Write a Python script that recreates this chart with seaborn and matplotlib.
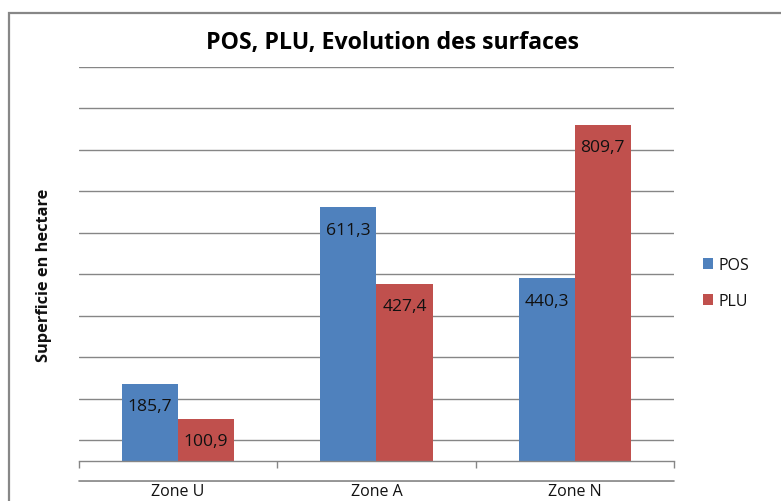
import numpy as np
import pandas as pd
import matplotlib
matplotlib.use("Agg")
import matplotlib.pyplot as plt
import matplotlib.patches as mpatches
from matplotlib.lines import Line2D
import seaborn as sns

# Surfaces (ha) per zone, before (POS) and after (PLU)
zones = ["Zone U", "Zone A", "Zone N"]
pos_values = [185.7, 611.3, 440.3]
plu_values = [100.9, 427.4, 809.7]
series = ["POS", "PLU"]
colors = ["#4F81BD", "#C0504D"]

df = pd.DataFrame({
    "zone": zones * 2,
    "surface": pos_values + plu_values,
    "plan": [series[0]] * len(zones) + [series[1]] * len(zones),
})

sns.set_theme(style="white")
plt.rcParams["font.family"] = ["Open Sans", "DejaVu Sans"]

W, H = 781, 502
fig = plt.figure(figsize=(W / 100, H / 100), dpi=100)
left, right, top, bottom = 79, 674, 68, 482.7
ax = fig.add_axes([left / W, 1 - bottom / H, (right - left) / W, (bottom - top) / H])

sns.barplot(data=df, x="zone", y="surface", hue="plan", hue_order=series,
            palette=colors, saturation=1, width=0.565, gap=0, linewidth=0,
            ax=ax, legend=True)

grid_col = "#868686"
ymin, ymax = -50, 950
ax.set_ylim(ymin, ymax)
ax.set_yticks(np.arange(ymin, ymax + 1, 100))
ax.yaxis.grid(True, color=grid_col, lw=1)
ax.set_axisbelow(True)
ax.tick_params(axis="y", length=0, labelleft=False)

# Lowest gridline runs along the bottom edge of the plot area
fig.add_artist(Line2D([left / W, right / W], [1 - (bottom - 0.5) / H] * 2,
                      transform=fig.transFigure, color=grid_col, lw=1.2,
                      zorder=0.5))

# Category axis sits on zero with tick marks between categories
for s in ["left", "right", "top"]:
    ax.spines[s].set_visible(False)
ax.spines["bottom"].set_position(("data", 0))
ax.spines["bottom"].set_color(grid_col)
ax.spines["bottom"].set_linewidth(1)
ax.set_xlim(-0.5, len(zones) - 0.5)
ax.set_xticks(np.arange(-0.5, len(zones), 1.0), minor=True)
ax.tick_params(axis="x", which="major", length=0, pad=16, labelsize=11.5,
               labelcolor="#111111")
ax.tick_params(axis="x", which="minor", length=5, width=1, color=grid_col,
               direction="out", bottom=True)
ax.set_xlabel("")

ax.set_ylabel("Superficie en hectare", fontsize=11.8, fontweight="bold",
              color="#111111")
ax.yaxis.set_label_coords((52 - left) / (right - left), 0.5)

# Value labels just inside the top of each bar
for cont, vals in zip(ax.containers, [pos_values, plu_values]):
    for patch, v in zip(cont.patches, vals):
        ax.annotate(f"{v:.1f}".replace(".", ","),
                    xy=(patch.get_x() + patch.get_width() / 2, v),
                    xytext=(0, -16), textcoords="offset points",
                    ha="center", va="center", fontsize=12.6, color="#111111")

leg = ax.legend(loc="center left", bbox_to_anchor=(703 / W, 1 - 284 / H),
                bbox_transform=fig.transFigure, frameon=False, fontsize=11.5,
                handlelength=0.65, handleheight=0.65, handletextpad=0.35,
                labelspacing=1.25, borderpad=0, borderaxespad=0)
for t in leg.get_texts():
    t.set_color("#111111")

fig.text(392.5 / W, 1 - 43.5 / H, "POS, PLU, Evolution des surfaces",
         ha="center", va="center", fontsize=16.7, fontweight="bold",
         color="#000000")

# Chart frame
fig.patches.append(mpatches.Rectangle((9 / W, -0.1), 2, 1 - 13.5 / H + 0.1,
                                      transform=fig.transFigure, fill=False,
                                      edgecolor="#878787", lw=1.6))

fig.savefig("out.png", dpi=100)
